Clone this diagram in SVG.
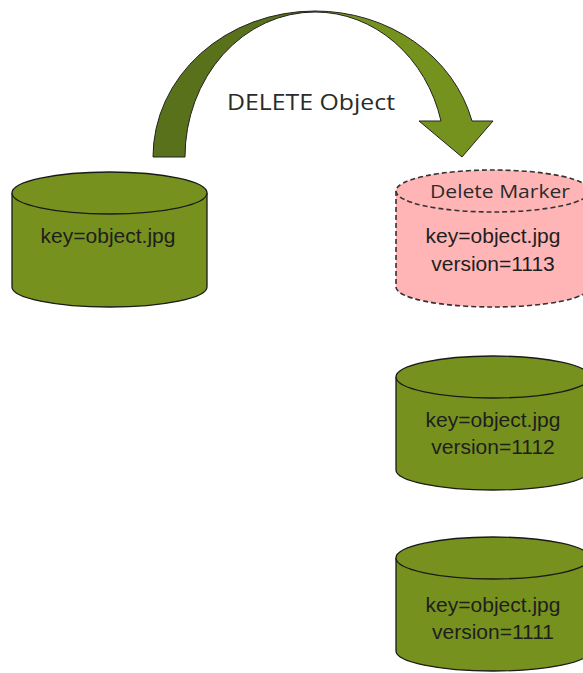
<svg xmlns="http://www.w3.org/2000/svg" width="583" height="673" viewBox="0 0 583 673">
<style>
.cyl{fill:#76911e;stroke:#1a1a1a;stroke-width:1.3}
.dm{fill:#ffb5b5;stroke:#333;stroke-width:1.6;stroke-dasharray:5 3}
.t{font-family:"Liberation Sans",Arial,sans-serif;font-size:21px;fill:#1e1e1e;text-anchor:middle}
.c{font-family:"Open Sans","Noto Sans",sans-serif;fill:#2b2b2b;text-anchor:middle}
.arrowL{fill:#58711a;stroke:#222;stroke-width:1}
.arrowR{fill:#76921e;stroke:#222;stroke-width:1}
</style>
<rect width="583" height="673" fill="#fff"/>
<g id="connectors">
<g id="delete-arrow">
<path class="arrowL" d="M153,157 A162,146 0 0 1 315,11 L315,12 A130,145 0 0 0 185,157 Z"/>
<path class="arrowR" d="M315,11 A162,146 0 0 1 472,121 L493,121 L462,157 L419,121 L441,121 A130,145 0 0 0 315,12 Z"/>
</g>
<text class="c" x="311" y="110" font-size="21" textLength="168" lengthAdjust="spacingAndGlyphs">DELETE Object</text>
</g>
<g id="node-original">
<path class="cyl" d="M12,193 V287 A97.5,20 0 0 0 207,287 V193"/>
<ellipse class="cyl" cx="109.5" cy="193" rx="97.5" ry="21"/>
<text class="t" x="108" y="243">key=object.jpg</text>
</g>
<g id="node-delete-marker">
<path class="dm" d="M396,191 V287 A97,20 0 0 0 590,287 V191"/>
<ellipse class="dm" cx="493" cy="191" rx="97" ry="21"/>
<text class="c" x="500" y="198" font-size="18" textLength="140" lengthAdjust="spacingAndGlyphs">Delete Marker</text>
<text class="t" x="493" y="243">key=object.jpg</text>
<text class="t" x="493" y="271">version=1113</text>
</g>
<g id="node-v1112">
<path class="cyl" d="M396,377 V470 A97,20 0 0 0 590,470 V377"/>
<ellipse class="cyl" cx="493" cy="377" rx="97" ry="21"/>
<text class="t" x="493" y="427">key=object.jpg</text>
<text class="t" x="493" y="454">version=1112</text>
</g>
<g id="node-v1111">
<path class="cyl" d="M396,558 V651 A97,20 0 0 0 590,651 V558"/>
<ellipse class="cyl" cx="493" cy="558" rx="97" ry="21"/>
<text class="t" x="493" y="612">key=object.jpg</text>
<text class="t" x="493" y="639">version=1111</text>
</g>
</svg>
